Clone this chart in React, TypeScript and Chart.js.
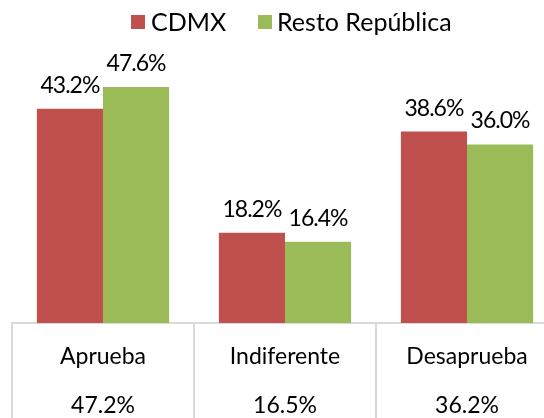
import React, { useEffect, useRef } from "react";
import { Chart, registerables } from "chart.js";

Chart.register(...registerables);

const categories = ["Aprueba", "Indiferente", "Desaprueba"];
const totals = ["47.2%", "16.5%", "36.2%"];
const cdmx = [43.2, 18.2, 38.6];
const resto = [47.6, 16.4, 36.0];
const seriesNames = ["CDMX", "Resto República"];
const colors = ["#C0504D", "#9BBB59"];

const FONT = "Lato, 'Open Sans', sans-serif";

const valueLabels = {
  id: "valueLabels",
  afterDatasetsDraw(chart: any) {
    const ctx = chart.ctx;
    ctx.save();
    ctx.font = `23px ${FONT}`;
    ctx.fillStyle = "#000";
    ctx.textAlign = "center";
    ctx.textBaseline = "alphabetic";
    try {
      ctx.letterSpacing = "-1px";
    } catch (e) {}
    chart.data.datasets.forEach((ds: any, di: number) => {
      const meta = chart.getDatasetMeta(di);
      meta.data.forEach((el: any, i: number) => {
        const v = ds.data[i];
        ctx.fillText(v.toFixed(1) + "%", el.x, el.y - 16);
      });
    });
    ctx.restore();
  },
};

export default function App() {
  const ref = useRef<HTMLCanvasElement>(null);

  useEffect(() => {
    if (!ref.current) return;
    const chart = new Chart(ref.current, {
      type: "bar",
      data: {
        labels: categories.map((c, i) => [c, totals[i]]),
        datasets: [
          { label: seriesNames[0], data: cdmx, backgroundColor: colors[0] },
          { label: seriesNames[1], data: resto, backgroundColor: colors[1] },
        ],
      },
      options: {
        responsive: false,
        animation: false,
        layout: { padding: { left: 12, right: 22, top: 75, bottom: 0 } },
        datasets: { bar: { categoryPercentage: 0.7265, barPercentage: 1 } },
        plugins: { legend: { display: false }, tooltip: { enabled: false } },
        scales: {
          x: {
            afterFit: (scale: any) => {
              scale.height = 95;
            },
            grid: {
              offset: true,
              drawOnChartArea: false,
              drawTicks: true,
              tickLength: 95,
              color: "#d9d9d9",
              lineWidth: 2,
            },
            border: { display: true, color: "#d9d9d9", width: 2 },
            ticks: {
              color: "#000",
              padding: -85.5,
              maxRotation: 0,
              autoSkip: false,
              font: { family: FONT, size: 23, lineHeight: 49 / 23 },
            },
          },
          y: { display: false, min: 0, max: 50 },
        },
      },
      plugins: [valueLabels],
    } as any);
    return () => chart.destroy();
  }, []);

  const textStyle: React.CSSProperties = {
    position: "absolute",
    top: 9,
    font: `25px ${FONT}`,
    lineHeight: "25px",
    color: "#000",
    whiteSpace: "nowrap",
  };

  return (
    <div
      style={{
        position: "absolute",
        left: 0,
        top: 0,
        width: 544,
        height: 418,
        overflow: "hidden",
        background: "#fff",
      }}
    >
      <canvas ref={ref} width={580} height={418} style={{ display: "block" }} />
      <div style={{ position: "absolute", left: 131, top: 15, width: 14, height: 14, background: colors[0] }} />
      <span style={{ ...textStyle, left: 151 }}>{seriesNames[0]}</span>
      <div style={{ position: "absolute", left: 258, top: 15, width: 14, height: 14, background: colors[1] }} />
      <span style={{ ...textStyle, left: 277 }}>{seriesNames[1]}</span>
    </div>
  );
}
